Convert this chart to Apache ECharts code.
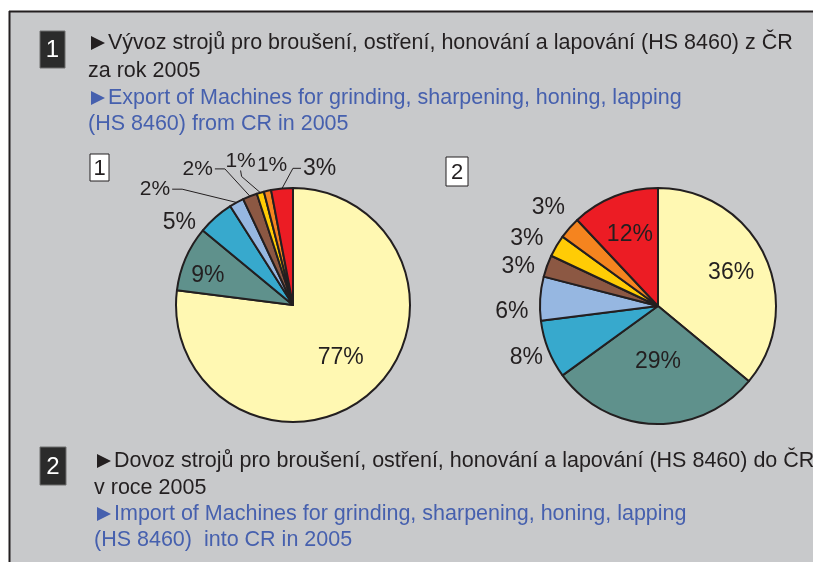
<!DOCTYPE html>
<html>
<head>
<meta charset="utf-8">
<script src="https://cdn.jsdelivr.net/npm/echarts@6/dist/echarts.min.js"></script>
<style>
  html, body { margin: 0; padding: 0; background: #c8c9cb; overflow: hidden; }
  #chart { width: 813px; height: 562px; }
</style>
</head>
<body>
<div id="chart"></div>
<script>
// podíly (%) – 1: vývoz, 2: dovoz
var categories = ['c1', 'c2', 'c3', 'c4', 'c5', 'c6', 'c7', 'c8'];
var exportShares = [77, 9, 5, 2, 2, 1, 1, 3];
var importShares = [36, 29, 8, 6, 3, 3, 3, 12];

var colors = ['#fff8b2', '#5f918c', '#37a9cd', '#96b7e1', '#8c5843', '#ffcc05', '#f5841f', '#ec1c24'];
var ink = '#231f20';
var blue = '#4660ae';
var font = '"Liberation Sans", Arial, sans-serif';

// label placement (angle clockwise from top, distance as fraction of radius)
var labelAngle1 = [138, 289, 306, 310, 325, 340, 351.5, 11];
var labelDist1 = [0.61, 0.77, 1.2, 1.54, 1.42, 1.31, 1.21, 1.19];
var labelLine1 = [null, null, null, 'right', 'right', 'below', null, 'left'];
var inside1 = [true, true, false, false, false, false, false, false];
var size1 = [23, 23, 23, 21, 21, 21, 21, 23];

var labelAngle2 = [65.7, 180, 248.5, 267.6, 285.6, 297.3, 312, 338.5];
var labelDist2 = [0.68, 0.47, 1.2, 1.24, 1.23, 1.25, 1.25, 0.65];
var labelLine2 = [null, null, null, null, null, null, null, null];
var inside2 = [true, true, false, false, false, false, false, true];
var size2 = [23, 23, 23, 23, 23, 23, 23, 23];

var center1 = [293, 305], radius1 = 117;
var center2 = [658, 306], radius2 = 118;

function midAngles(values) {
  var total = values.reduce(function (a, b) { return a + b; }, 0);
  var acc = 0, res = [];
  values.forEach(function (v) {
    res.push((acc + v / 2) / total * 360);
    acc += v;
  });
  return res;
}

function buildData(values, inside, sizes) {
  return values.map(function (v, i) {
    return {
      name: categories[i],
      value: v,
      itemStyle: { color: colors[i] },
      label: { position: inside[i] ? 'inside' : 'outside', fontSize: sizes[i] }
    };
  });
}

function makeLayout(values, center, radius, angles, dists, lines) {
  var mids = midAngles(values);
  return function (p) {
    var i = p.dataIndex;
    var a = angles[i] * Math.PI / 180;
    var d = dists[i] * radius;
    var x = center[0] + d * Math.sin(a);
    var y = center[1] - d * Math.cos(a);
    var out = { x: x, y: y, align: 'center', verticalAlign: 'middle' };
    var w = p.labelRect.width, h = p.labelRect.height;
    var m = mids[i] * Math.PI / 180;
    var arc = [center[0] + radius * Math.sin(m), center[1] - radius * Math.cos(m)];
    if (lines[i] === 'right') {
      out.labelLinePoints = [arc, [x + w / 2 + 12, y], [x + w / 2 + 2, y]];
    } else if (lines[i] === 'left') {
      out.labelLinePoints = [arc, [x - w / 2 - 10, y], [x - w / 2 - 2, y]];
    } else if (lines[i] === 'below') {
      out.labelLinePoints = [arc, [x + 1, y + h / 2 + 5], [x, y + h / 2 - 1]];
    } else {
      // no leader line
      out.labelLinePoints = [[x, y], [x, y], [x, y]];
    }
    return out;
  };
}

function pieSeries(values, center, radius, inside, sizes, angles, dists, lines) {
  return {
    type: 'pie',
    center: center,
    radius: radius,
    startAngle: 90,
    clockwise: true,
    avoidLabelOverlap: false,
    silent: true,
    itemStyle: { borderColor: ink, borderWidth: 2 },
    label: {
      show: true,
      formatter: '{c}%',
      color: ink,
      fontFamily: font
    },
    labelLine: { lineStyle: { color: ink, width: 1 } },
    labelLayout: makeLayout(values, center, radius, angles, dists, lines),
    data: buildData(values, inside, sizes)
  };
}

// heading line: triangle marker + text
function heading(text, x, y, color, marker) {
  var els = [];
  if (marker) {
    els.push({
      type: 'polygon', silent: true,
      shape: { points: [[x, y - 7], [x, y + 7], [x + 14, y]] },
      style: { fill: color }
    });
    x += 17;
  }
  els.push({
    type: 'text', x: x, y: y, silent: true,
    style: { text: text, fill: color, font: '21.5px ' + font, textVerticalAlign: 'middle' }
  });
  return els;
}

function darkBox(num, x, y, w, h) {
  return [
    { type: 'rect', shape: { x: x, y: y, width: w, height: h }, style: { fill: '#2b2b2b', stroke: '#6e6e6e', lineWidth: 1 } },
    { type: 'text', x: x + w / 2, y: y + h / 2 + 1, style: { text: num, fill: '#ffffff', font: '24px ' + font, textAlign: 'center', textVerticalAlign: 'middle' } }
  ];
}

function whiteBox(num, x, y, w, h) {
  return [
    { type: 'rect', shape: { x: x, y: y, width: w, height: h }, style: { fill: '#ffffff', stroke: ink, lineWidth: 1 } },
    { type: 'text', x: x + w / 2, y: y + h / 2 + 1, style: { text: num, fill: ink, font: '22px ' + font, textAlign: 'center', textVerticalAlign: 'middle' } }
  ];
}

var chart = echarts.init(document.getElementById('chart'), null, { renderer: 'canvas' });

var graphics = [
  { type: 'rect', z: -10, shape: { x: 0, y: 0, width: 10, height: 562 }, style: { fill: '#ffffff' } },
  { type: 'rect', z: -10, shape: { x: 0, y: 0, width: 813, height: 12 }, style: { fill: '#ffffff' } },
  { type: 'line', shape: { x1: 9, y1: 11.5, x2: 813, y2: 11.5 }, style: { stroke: ink, lineWidth: 2 } },
  { type: 'line', shape: { x1: 9.5, y1: 11, x2: 9.5, y2: 562 }, style: { stroke: ink, lineWidth: 2 } }
].concat(
  heading('Vývoz strojů pro broušení, ostření, honování a lapování (HS 8460) z ČR', 91, 43, ink, true),
  heading('za rok 2005', 88, 71, ink, false),
  heading('Export of Machines for grinding, sharpening, honing, lapping', 91, 98, blue, true),
  heading('(HS 8460) from CR in 2005', 88, 124, blue, false),
  heading('Dovoz strojů pro broušení, ostření, honování a lapování (HS 8460) do ČR', 97, 461, ink, true),
  heading('v roce 2005', 94, 488, ink, false),
  heading('Import of Machines for grinding, sharpening, honing, lapping', 97, 514, blue, true),
  heading('(HS 8460)  into CR in 2005', 94, 540, blue, false),
  darkBox('1', 40, 31, 25, 37),
  darkBox('2', 40, 447, 26, 38),
  whiteBox('1', 90, 154, 19, 27),
  whiteBox('2', 446, 157, 22, 29)
);

chart.setOption({
  animation: false,
  backgroundColor: '#c8c9cb',
  graphic: graphics,
  series: [
    pieSeries(exportShares, center1, radius1, inside1, size1, labelAngle1, labelDist1, labelLine1),
    pieSeries(importShares, center2, radius2, inside2, size2, labelAngle2, labelDist2, labelLine2)
  ]
});
</script>
</body>
</html>
